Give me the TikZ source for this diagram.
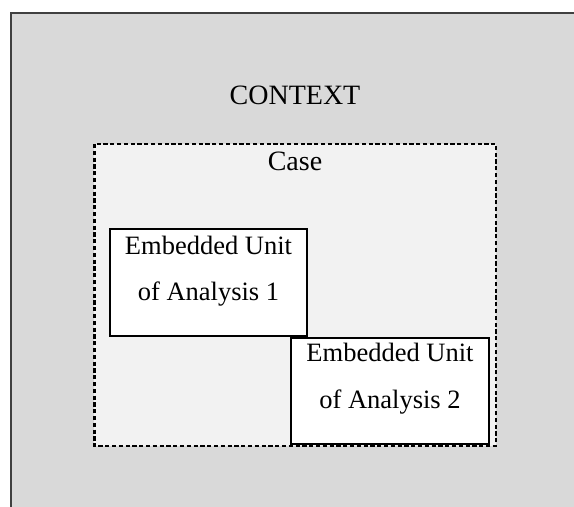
\documentclass[tikz,border=0pt]{standalone}
\usepackage{fontspec}
\setmainfont{Liberation Serif}
\definecolor{ctxgray}{HTML}{D9D9D9}
\definecolor{casegray}{HTML}{F2F2F2}
\definecolor{ctxborder}{HTML}{404040}
\tikzset{
  txt/.style={font=\fontsize{28bp}{30bp}\selectfont, anchor=base, inner sep=0pt, text=black},
  unittxt/.style={font=\fontsize{26.5bp}{30bp}\selectfont, anchor=base, inner sep=0pt, text=black},
  unitbox/.style={draw=black, line width=1.6bp, fill=white, inner sep=0pt},
  casebox/.style={draw=black, line width=2.8bp, dash pattern=on 4.2bp off 2.6bp, fill=casegray, inner sep=0pt},
  ctxbox/.style={draw=ctxborder, line width=1.6bp, fill=ctxgray, inner sep=0pt}
}
\begin{document}
\begin{tikzpicture}[x=1bp,y=-1bp]
\useasboundingbox (0,0) rectangle (574,507);
\clip (0,0) rectangle (574,507);
\fill[white] (0,0) rectangle (574,507);
% context
\draw[ctxbox] (11,13) rectangle (590,530);
\node[txt] (ctx) at (295,105) {CONTEXT};
% case
\draw[casebox] (94.3,144) rectangle (496,446);
\node[txt] (case) at (295,171) {Case};
% unit 1
\draw[unitbox] (110,229) rectangle (307,336);
\node[unittxt] (u1a) at (208.5,254) {Embedded Unit};
\node[unittxt] (u1b) at (208.5,300) {of Analysis 1};
% unit 2
\draw[unitbox] (291,338) rectangle (489,444);
\node[unittxt] (u2a) at (390,361) {Embedded Unit};
\node[unittxt] (u2b) at (390,408) {of Analysis 2};
\end{tikzpicture}
\end{document}
